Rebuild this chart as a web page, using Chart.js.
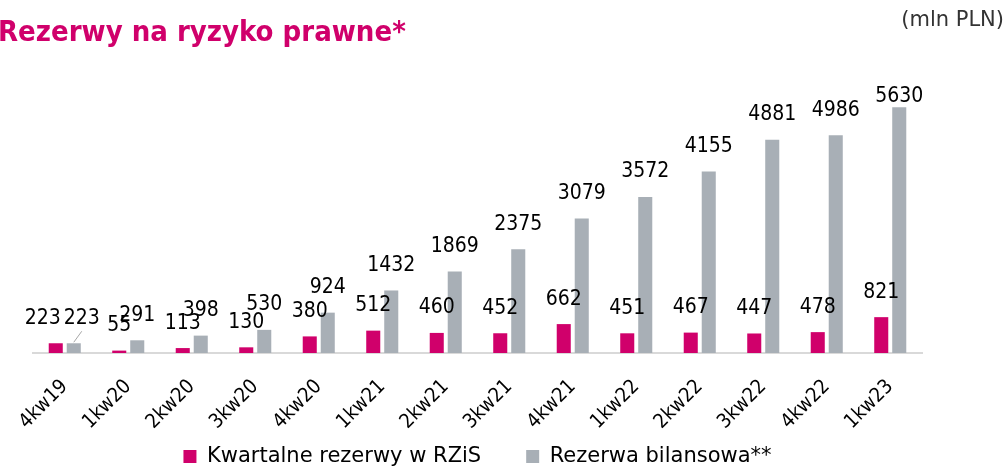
<!DOCTYPE html>
<html>
<head>
<meta charset="utf-8">
<script src="https://cdn.jsdelivr.net/npm/chart.js@4.4.0/dist/chart.umd.min.js"></script>
<style>
  body { margin: 0; background: #fff; }
  #wrap { position: relative; width: 1007px; height: 471px; }
</style>
</head>
<body>
<div id="wrap"><canvas id="legal-risk-chart"></canvas></div>
<script>
// data (mln PLN)
const quarters = ["4kw19","1kw20","2kw20","3kw20","4kw20","1kw21","2kw21",
                  "3kw21","4kw21","1kw22","2kw22","3kw22","4kw22","1kw23"];
const quarterlyProvisions = [223, 55, 113, 130, 380, 512, 460, 452, 662, 451, 467, 447, 478, 821];
const balanceReserve = [223, 291, 398, 530, 924, 1432, 1869, 2375, 3079, 3572, 4155, 4881, 4986, 5630];

const magenta = '#D0006B';
const grey = '#A8AFB6';
const condensed = "'DejaVu Sans Condensed', 'DejaVu Sans', sans-serif";
const regular = "'DejaVu Sans', sans-serif";

/* numbers above the bars */
const valueLabels = {
  id: 'valueLabels',
  afterDatasetsDraw(chart, args, opts) {
    const ctx = chart.ctx;
    ctx.save();
    ctx.font = `21px ${condensed}`;
    ctx.fillStyle = '#000';
    ctx.textAlign = 'center';
    ctx.textBaseline = 'middle';
    chart.data.datasets.forEach((ds, di) => {
      const meta = chart.getDatasetMeta(di);
      meta.data.forEach((bar, i) => {
        let x = bar.x;
        let y = Math.max(bar.y - opts.offset, opts.minY);
        const nudge = opts.nudges.find(n => n.dataset === di && n.index === i);
        if (nudge) {
          x += nudge.dx;
          if (nudge.leader) {
            ctx.strokeStyle = '#A6A6A6';
            ctx.lineWidth = 1;
            ctx.beginPath();
            ctx.moveTo(x, y + 13);
            ctx.lineTo(bar.x, bar.y - 1);
            ctx.stroke();
          }
        }
        ctx.fillText(ds.data[i], x, y);
      });
    });
    ctx.restore();
  }
};

/* heading on the left, unit on the right */
const headings = {
  id: 'headings',
  afterDraw(chart) {
    const ctx = chart.ctx;
    ctx.save();
    ctx.textBaseline = 'middle';
    ctx.textAlign = 'left';
    ctx.fillStyle = magenta;
    ctx.font = `bold 29px ${condensed}`;
    ctx.fillText('Rezerwy na ryzyko prawne*', -2, 33);
    ctx.textAlign = 'right';
    ctx.fillStyle = '#333';
    ctx.font = `21px ${regular}`;
    ctx.fillText('(mln PLN)', chart.width - 3, 21);
    ctx.restore();
  }
};

// the x scale is kept short so the legend sits close, but its labels
// hang lower than that, so widen the label clip box after layout
const tickRoom = {
  id: 'tickRoom',
  afterLayout(chart) {
    const x = chart.scales.x;
    x.bottom = x.top + 90;
  }
};

const config = {
  type: 'bar',
  data: {
    labels: quarters,
    datasets: [{
      label: 'Kwartalne rezerwy w RZiS',
      data: quarterlyProvisions,
      backgroundColor: magenta,
      categoryPercentage: 0.567,
      barPercentage: 0.78
    }, {
      label: 'Rezerwa bilansowa**',
      data: balanceReserve,
      backgroundColor: grey,
      categoryPercentage: 0.567,
      barPercentage: 0.78
    }]
  },
  options: {
    responsive: true,
    maintainAspectRatio: false,
    animation: false,
    layout: {
      padding: { left: 33, right: 85, top: 91, bottom: -6 }
    },
    scales: {
      x: {
        grid: { display: false },
        border: { display: true, color: '#D9D9D9', width: 2 },
        ticks: {
          color: '#000',
          font: { family: condensed, size: 20 },
          minRotation: 45,
          maxRotation: 45,
          padding: 14
        },
        afterFit: (scale) => { scale.height = 48; }
      },
      y: {
        display: false,
        min: 0,
        max: 6000
      }
    },
    plugins: {
      title: { display: false },
      legend: {
        position: 'bottom',
        fullSize: false,
        labels: {
          color: '#000',
          font: { family: regular, size: 21 },
          boxWidth: 13,
          boxHeight: 13,
          padding: 45
        }
      },
      tooltip: { enabled: false },
      valueLabels: {
        offset: 25,
        minY: 97,
        nudges: [
          { dataset: 0, index: 0, dx: -13 },
          { dataset: 1, index: 0, dx: 8, leader: true }
        ]
      }
    }
  },
  plugins: [valueLabels, headings, tickRoom]
};

new Chart(document.getElementById('legal-risk-chart'), config);
</script>
</body>
</html>
